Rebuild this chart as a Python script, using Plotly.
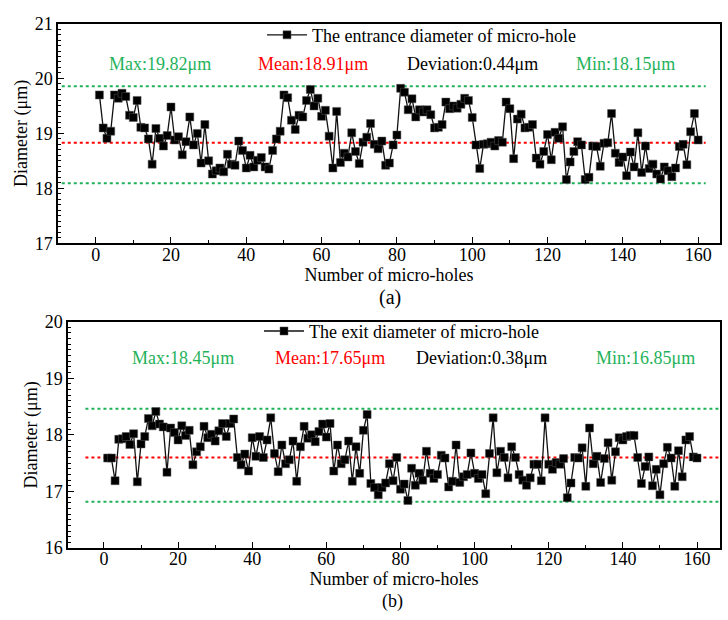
import plotly.graph_objects as go

holes = list(range(1, 161))

entrance = [
    19.70, 19.10, 18.91, 19.04, 19.70, 19.64, 19.73, 19.67, 19.33, 19.29,
    19.60, 19.11, 19.10, 18.90, 18.44, 19.09, 18.91, 18.77, 18.96, 19.48,
    18.88, 18.94, 18.61, 18.85, 19.30, 18.79, 19.00, 18.46, 19.16, 18.50,
    18.26, 18.32, 18.37, 18.30, 18.62, 18.44, 18.42, 18.86, 18.69, 18.37,
    18.60, 18.39, 18.51, 18.56, 18.39, 18.35, 18.69, 18.90, 19.04, 19.70,
    19.65, 19.24, 19.07, 19.33, 19.30, 19.60, 19.80, 19.50, 19.64, 19.31,
    19.42, 18.95, 18.37, 19.40, 18.47, 18.64, 18.57, 19.01, 18.67, 18.45,
    18.84, 18.93, 19.18, 18.80, 18.72, 18.86, 18.42, 18.46, 18.79, 18.97,
    19.82, 19.75, 19.43, 19.63, 19.30, 19.43, 19.39, 19.43, 19.34, 19.10,
    19.11, 19.16, 19.57, 19.45, 19.50, 19.46, 19.53, 19.64, 19.60, 19.29,
    18.79, 18.36, 18.80, 18.81, 18.84, 18.77, 18.87, 18.84, 19.57, 19.45,
    18.54, 19.26, 19.35, 19.10, 19.11, 19.16, 18.55, 18.44, 18.67, 18.98,
    18.52, 19.02, 18.91, 19.12, 18.16, 18.48, 18.67, 18.85, 18.79, 18.16,
    18.20, 18.77, 18.76, 18.40, 18.82, 18.83, 19.36, 18.64, 18.47, 18.57,
    18.23, 18.66, 18.39, 19.01, 18.29, 18.77, 18.36, 18.44, 18.26, 18.17,
    18.39, 18.32, 18.21, 18.37, 18.76, 18.80, 18.43, 19.03, 19.36, 18.88,
]

exit_d = [
    17.59, 17.59, 17.19, 17.92, 17.93, 17.97, 17.83, 18.02, 17.17, 17.84,
    17.97, 18.29, 18.16, 18.41, 18.19, 18.14, 17.34, 18.12, 18.04, 17.91,
    18.16, 17.99, 18.08, 17.47, 17.70, 17.79, 18.15, 17.95, 18.01, 17.89,
    18.07, 18.20, 17.97, 18.20, 18.28, 17.60, 17.47, 17.66, 17.36, 17.95,
    17.62, 17.97, 17.60, 17.91, 18.30, 17.67, 17.35, 17.82, 17.49, 17.56,
    17.89, 17.18, 17.79, 18.15, 17.94, 18.00, 17.88, 18.06, 18.19, 17.96,
    18.20, 17.36, 17.82, 17.49, 17.56, 17.89, 17.18, 17.79, 17.32, 18.08,
    18.36, 17.14, 17.07, 16.94, 17.07, 17.15, 17.49, 17.19, 17.60, 17.04,
    17.13, 16.84, 17.41, 17.11, 17.32, 17.20, 17.71, 17.32, 17.23, 17.30,
    17.64, 17.59, 17.08, 17.18, 17.82, 17.16, 17.26, 17.30, 17.68, 17.32,
    17.23, 17.30, 16.96, 17.67, 18.30, 17.33, 17.71, 17.60, 17.24, 17.79,
    17.60, 17.30, 17.20, 17.11, 17.24, 17.48, 17.48, 17.19, 18.30, 17.48,
    17.39, 17.51, 17.48, 17.58, 16.89, 17.15, 17.60, 17.59, 17.77, 17.09,
    18.12, 17.49, 17.62, 17.16, 17.58, 17.86, 17.20, 17.70, 17.95, 17.91,
    17.97, 17.99, 17.99, 17.60, 17.14, 17.44, 17.61, 17.10, 17.39, 16.94,
    17.49, 17.78, 17.59, 17.09, 17.72, 17.26, 17.91, 17.97, 17.61, 17.59,
]

# reference levels (upper limit, mean, lower limit) as drawn
entrance_levels = [19.86, 18.83, 18.09]
exit_levels = [18.46, 17.60, 16.82]
entrance_line_span = [-9, 162]
exit_line_span = [-5, 166]

entrance_stats = ["Max:19.82μm", "Mean:18.91μm", "Deviation:0.44μm", "Min:18.15μm"]
exit_stats = ["Max:18.45μm", "Mean:17.65μm", "Deviation:0.38μm", "Min:16.85μm"]

GREEN = "#1fb25a"
RED = "#ff0000"
FONT = "Liberation Serif"

fig = go.Figure()

level_colors = [GREEN, RED, GREEN]

for lv, col in zip(entrance_levels, level_colors):
    fig.add_trace(go.Scatter(x=entrance_line_span, y=[lv, lv], mode="lines",
                             line=dict(color=col, width=2, dash="dot"),
                             showlegend=False, hoverinfo="skip", xaxis="x", yaxis="y"))
for lv, col in zip(exit_levels, level_colors):
    fig.add_trace(go.Scatter(x=exit_line_span, y=[lv, lv], mode="lines",
                             line=dict(color=col, width=2, dash="dot"),
                             showlegend=False, hoverinfo="skip", xaxis="x2", yaxis="y2"))

marker = dict(symbol="square", size=8, color="black", line=dict(color="#555555", width=0.5))

fig.add_trace(go.Scatter(x=holes, y=entrance, mode="lines+markers",
                         name="The entrance diameter of micro-hole",
                         line=dict(color="#111111", width=1.3), marker=marker,
                         xaxis="x", yaxis="y", legend="legend"))
fig.add_trace(go.Scatter(x=holes, y=exit_d, mode="lines+markers",
                         name="The exit diameter of micro-hole",
                         line=dict(color="#111111", width=1.3), marker=marker,
                         xaxis="x2", yaxis="y2", legend="legend2"))

axis_common = dict(showline=True, linecolor="black", linewidth=1.5, mirror=True,
                   ticks="inside", tickcolor="black", showgrid=False, zeroline=False,
                   tickfont=dict(family=FONT, size=18, color="black"))

fig.update_layout(
    width=728, height=620,
    margin=dict(l=0, r=0, t=0, b=0),
    paper_bgcolor="white", plot_bgcolor="white",
    font=dict(family=FONT, size=18, color="black"),
    xaxis=dict(domain=[58/728, 720/728], range=[-10, 165.8], dtick=20, ticklen=6,
               ticklabelstandoff=-6,
               minor=dict(dtick=10, ticks="inside", ticklen=3, tickcolor="black"),
               title=dict(text="Number of micro-holes", standoff=0,
                          font=dict(family=FONT, size=18)),
               anchor="y", **axis_common),
    yaxis=dict(domain=[1-241/620, 1-14/620], range=[17, 21], dtick=1, ticklen=6,
               minor=dict(dtick=0.1, ticks="inside", ticklen=3, tickcolor="black"),
               title=dict(text="Diameter (μm)", standoff=2,
                          font=dict(family=FONT, size=18)),
               anchor="x", **axis_common),
    xaxis2=dict(domain=[68/728, 720/728], range=[-9.7, 166.2], dtick=20, ticklen=6,
                ticklabelstandoff=-6,
                minor=dict(dtick=10, ticks="inside", ticklen=3, tickcolor="black"),
                title=dict(text="Number of micro-holes", standoff=0,
                           font=dict(family=FONT, size=18)),
                anchor="y2", **axis_common),
    yaxis2=dict(domain=[1-556/620, 1-322/620], range=[16, 20], dtick=1, ticklen=6,
                minor=dict(dtick=0.1, ticks="inside", ticklen=3, tickcolor="black"),
                title=dict(text="Diameter (μm)", standoff=2,
                           font=dict(family=FONT, size=18)),
                anchor="x2", **axis_common),
    legend=dict(x=262/728, y=1-26/620, xanchor="left", yanchor="middle", itemwidth=40,
                bgcolor="rgba(0,0,0,0)", font=dict(family=FONT, size=18)),
    legend2=dict(x=259/728, y=1-332/620, xanchor="left", yanchor="middle", itemwidth=40,
                 bgcolor="rgba(0,0,0,0)", font=dict(family=FONT, size=18)),
)

stat_colors = [GREEN, RED, "black", GREEN]
top_x = [160, 313, 472, 625]
bot_x = [183, 330, 481, 645]
for txt, col, px in zip(entrance_stats, stat_colors, top_x):
    fig.add_annotation(x=px/728, y=1-56/620, xref="paper", yref="paper", text=txt,
                       xanchor="center", yanchor="middle",
                       showarrow=False, font=dict(family=FONT, size=18, color=col))
for txt, col, px in zip(exit_stats, stat_colors, bot_x):
    fig.add_annotation(x=px/728, y=1-360/620, xref="paper", yref="paper", text=txt,
                       xanchor="center", yanchor="middle",
                       showarrow=False, font=dict(family=FONT, size=18, color=col))

fig.add_annotation(x=390/728, y=1-297/620, xref="paper", yref="paper", text="(a)",
                   xanchor="center", yanchor="middle",
                   showarrow=False, font=dict(family=FONT, size=20, color="black"))
fig.add_annotation(x=392/728, y=1-611/620, xref="paper", yref="paper", text="(b)",
                   xanchor="center", yanchor="middle",
                   showarrow=False, font=dict(family=FONT, size=18, color="black"))

fig.write_html("out.html")
